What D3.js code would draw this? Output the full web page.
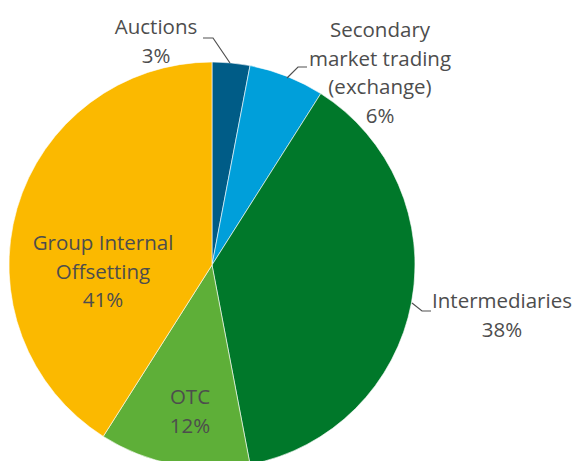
<!DOCTYPE html>
<html><head><meta charset="utf-8">
<script src="https://cdn.jsdelivr.net/npm/d3@7"></script>
<style>
html,body{margin:0;padding:0;background:#fff;}
svg{display:block;}
text{font-family:"Open Sans","Noto Sans",sans-serif;fill:#4d4d4d;}
</style></head>
<body>
<svg id="chart" width="579" height="461"></svg>
<script>
const categories = ["Auctions", "Secondary market trading (exchange)", "Intermediaries", "OTC", "Group Internal Offsetting"];
const values = [3, 6, 38, 12, 41];
const colors = ["#005C87", "#009FDA", "#00782A", "#5EAF38", "#FBB900"];
const labelLines = [["Auctions","3%"],["Secondary","market trading","(exchange)","6%"],["Intermediaries","38%"],["OTC","12%"],["Group Internal","Offsetting","41%"]];
const labelPos = [[156,34],[380,37],[502,308],[190,404],[103,250]];

const svg = d3.select("#chart");
const cx = 212, cy = 265, r = 203;
const g = svg.append("g").attr("transform", `translate(${cx},${cy})`);
const pie = d3.pie().sort(null).value(d => d);
const arc = d3.arc().innerRadius(0).outerRadius(r);
const arcs = pie(values);
g.selectAll("path").data(arcs).enter().append("path")
  .attr("d", arc).attr("fill", (d,i) => colors[i])
  .attr("stroke", "#fff").attr("stroke-width", 0.6);

// leader lines
const leaders = [
  [[203,38],[213,38],[230,63]],
  [[307,67],[298,67],[287,78]],
  [[431,311],[422,311],[412,303]]
];
svg.selectAll("polyline").data(leaders).enter().append("polyline")
  .attr("points", d => d.map(p => p.join(",")).join(" "))
  .attr("fill","none").attr("stroke","#505050").attr("stroke-width",1.2);

const lh = 28.5;
labelLines.forEach((lines, i) => {
  const t = svg.append("text").attr("text-anchor","middle")
    .attr("x", labelPos[i][0]).attr("y", labelPos[i][1]).style("font-size","20.5px");
  lines.forEach((l, j) => {
    t.append("tspan").attr("x", labelPos[i][0]).attr("y", labelPos[i][1] + j*lh).text(l);
  });
});
</script>
</body></html>
